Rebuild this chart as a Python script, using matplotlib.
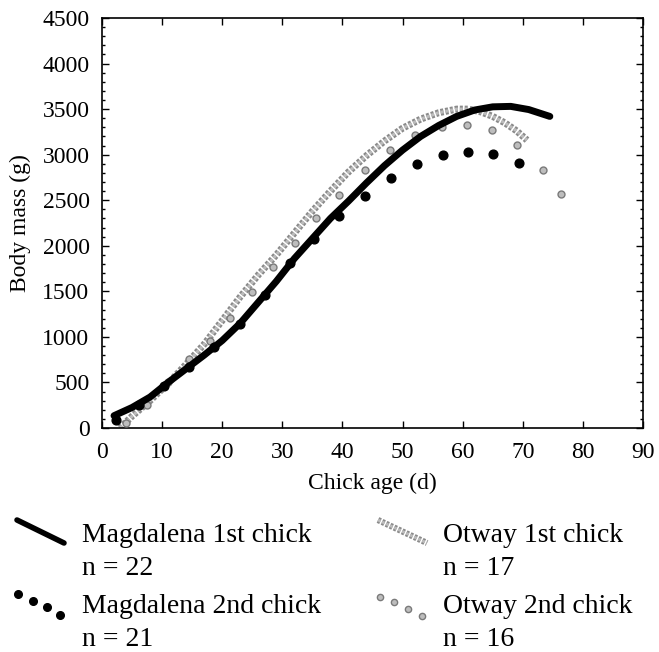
import numpy as np
import matplotlib
matplotlib.use("Agg")
from matplotlib import pyplot as plt
from matplotlib.lines import Line2D
from matplotlib.ticker import MultipleLocator
import matplotlib.patheffects as pe

# Magdalena 1st chick (fitted growth curve)
mag1_age = [2, 5, 8, 11, 14, 17, 20, 23, 26, 29, 32, 35, 38, 41, 44, 47,
            50, 53, 56, 59, 62, 65, 68, 71, 74.5]
mag1_mass = [135, 225, 340, 500, 650, 800, 960, 1150, 1380, 1610, 1860, 2080,
             2300, 2490, 2690, 2880, 3050, 3200, 3320, 3420, 3490, 3525, 3530,
             3495, 3420]

# Magdalena 2nd chick
mag2_age = [2.3, 6.1, 10.3, 14.5, 18.7, 22.9, 27.1, 31.2, 35.3, 39.5, 43.8,
            48.0, 52.4, 56.7, 60.9, 65.1, 69.3]
mag2_mass = [90, 250, 460, 675, 890, 1140, 1460, 1808, 2070, 2325, 2547, 2741,
             2898, 3000, 3033, 3008, 2912]

# Otway 1st chick
otw1_age = [3, 5, 8, 11, 14, 17, 20, 23, 26, 29, 32, 35, 38, 41, 44, 47, 50,
            53, 56, 59, 61, 63, 65, 67, 69, 70.7]
otw1_mass = [0, 130, 300, 490, 700, 920, 1180, 1440, 1680, 1900, 2140, 2380,
             2600, 2810, 2990, 3150, 3290, 3390, 3460, 3500, 3500, 3470, 3420,
             3350, 3260, 3160]

# Otway 2nd chick
otw2_age = [4, 7.5, 11, 14.5, 18, 21.3, 24.9, 28.5, 32.1, 35.6, 39.5, 43.8,
            47.9, 52.1, 56.5, 60.7, 64.8, 69.0, 73.3, 76.3]
otw2_mass = [60, 250, 500, 760, 960, 1204, 1496, 1771, 2027, 2310, 2560, 2836,
             3048, 3216, 3307, 3326, 3271, 3106, 2832, 2569]

legend_names = ["Magdalena 1st chick", "Otway 1st chick",
                "Magdalena 2nd chick", "Otway 2nd chick"]
legend_n = ["n = 22", "n = 17", "n = 21", "n = 16"]

plt.rcParams['font.family'] = ['Liberation Serif', 'DejaVu Serif']

W, H = 659, 652
fig = plt.figure(figsize=(W / 100, H / 100), dpi=100)
ax = fig.add_axes([102 / W, 1 - 428 / H, (643 - 102) / W, (428 - 18) / H])

gray_fx = [pe.Stroke(linewidth=5.0, foreground='#8a8a8a'),
           pe.Normal()]

ax.plot(otw1_age, otw1_mass, color='#bcbcbc', lw=2.2, ls=(0, (1.0, 0.6)),
        solid_capstyle='round', path_effects=gray_fx, zorder=2)
ax.plot(otw2_age, otw2_mass, ls='none', marker='o', ms=5,
        mfc='#bdbdbd', mec='#7a7a7a', mew=1.0, zorder=3)
ax.plot(mag1_age, mag1_mass, color='black', lw=5, solid_capstyle='round',
        zorder=4)
ax.plot(mag2_age, mag2_mass, ls='none', marker='o', ms=6.3,
        mfc='black', mec='black', zorder=5)

ax.set_xlim(0, 90)
ax.set_ylim(0, 4500)
ax.xaxis.set_major_locator(MultipleLocator(10))
ax.yaxis.set_major_locator(MultipleLocator(500))
ax.yaxis.set_minor_locator(MultipleLocator(100))
ax.tick_params(which='both', direction='in', top=True, right=True,
               labelsize=17, width=1.0)
ax.tick_params(axis='x', which='major', length=5, pad=10)
ax.tick_params(axis='y', which='major', length=5, pad=9)
ax.tick_params(which='minor', length=2.5)
for s in ax.spines.values():
    s.set_linewidth(1.2)

ax.set_xlabel('Chick age (d)', fontsize=17, labelpad=7)
ax.set_ylabel('Body mass (g)', fontsize=17, labelpad=8)

# legend drawn below the axes, in two columns
col_x = [82, 443]
row_base = [542, 613]
for i, (name, n) in enumerate(zip(legend_names, legend_n)):
    c, r = i % 2, i // 2
    x = col_x[c] / W
    y0 = 1 - row_base[r] / H
    y1 = 1 - (row_base[r] + 33) / H
    fig.text(x, y0, name, fontsize=20, va='baseline', ha='left')
    fig.text(x, y1, n, fontsize=20, va='baseline', ha='left')

tf = fig.transFigure
fig.add_artist(Line2D([17 / W, 64 / W], [1 - 520 / H, 1 - 543 / H],
                      color='black', lw=4, solid_capstyle='round', transform=tf))
fig.add_artist(Line2D([378 / W, 427 / W], [1 - 520 / H, 1 - 543 / H],
                      color='#bcbcbc', lw=2.0, ls=(0, (1.0, 0.6)),
                      path_effects=[pe.Stroke(linewidth=4.5, foreground='#8a8a8a'),
                                    pe.Normal()], transform=tf))
fig.add_artist(Line2D([18 / W, 33 / W, 47 / W, 60 / W],
                      [1 - 594 / H, 1 - 601 / H, 1 - 607 / H, 1 - 615 / H],
                      ls='none', marker='o', ms=5.5, mfc='black', mec='black',
                      transform=tf))
fig.add_artist(Line2D([380 / W, 394 / W, 408 / W, 422 / W],
                      [1 - 597 / H, 1 - 602 / H, 1 - 609 / H, 1 - 616 / H],
                      ls='none', marker='o', ms=4.5, mfc='#bdbdbd', mec='#7a7a7a',
                      mew=1.0, transform=tf))

fig.savefig('out.png', dpi=100)
